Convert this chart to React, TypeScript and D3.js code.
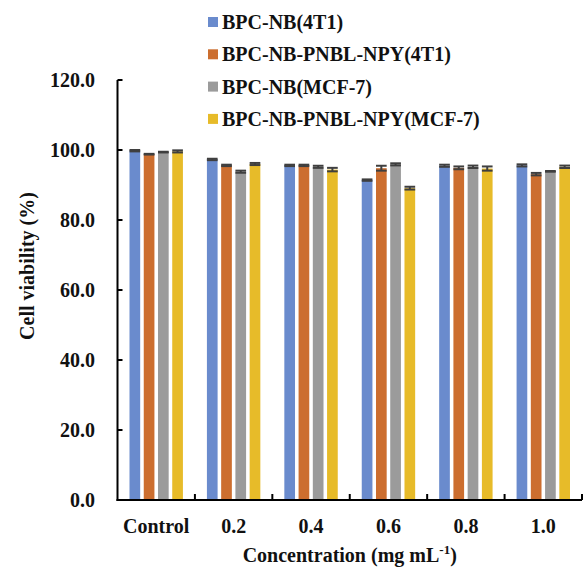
import * as d3 from 'd3';

const categories = ['Control', '0.2', '0.4', '0.6', '0.8', '1.0'];
const seriesNames = ['BPC-NB(4T1)', 'BPC-NB-PNBL-NPY(4T1)', 'BPC-NB(MCF-7)', 'BPC-NB-PNBL-NPY(MCF-7)'];
const seriesColors = ['#6a8bcd', '#cc6e2f', '#9b9b9b', '#e7bb29'];

// mean cell viability (%)
const bpcNb4t1 = [99.8, 97.3, 95.6, 91.4, 95.5, 95.6];
const pnbl4t1 = [98.8, 95.6, 95.6, 94.8, 94.9, 93.1];
const bpcNbMcf7 = [99.4, 93.8, 95.2, 95.9, 95.2, 93.9];
const pnblMcf7 = [99.6, 96.0, 94.4, 89.1, 94.7, 95.2];

// standard deviations
const bpcNb4t1Err = [0.2, 0.2, 0.2, 0.2, 0.3, 0.3];
const pnbl4t1Err = [0.1, 0.2, 0.2, 0.7, 0.4, 0.35];
const bpcNbMcf7Err = [0.1, 0.3, 0.3, 0.3, 0.35, 0.1];
const pnblMcf7Err = [0.3, 0.3, 0.5, 0.4, 0.6, 0.35];

const yTicks = [0, 20, 40, 60, 80, 100, 120];

const values = [bpcNb4t1, pnbl4t1, bpcNbMcf7, pnblMcf7];
const errors = [bpcNb4t1Err, pnbl4t1Err, bpcNbMcf7Err, pnblMcf7Err];

const W = 586;
const H = 568;
const left = 117.5;
const right = 582;
const top = 80;
const bottom = 500;
const font = 'Liberation Serif, DejaVu Serif, serif';

export default function App() {
  const x = d3.scaleBand<string>().domain(categories).range([left, right]).padding(0);
  const bw = x.bandwidth();
  const inner = d3
    .scaleBand<number>()
    .domain(d3.range(seriesNames.length))
    .range([12, bw - 12])
    .paddingInner(0.25)
    .paddingOuter(0);
  const y = d3.scaleLinear().domain([0, 120]).range([bottom, top]);
  const fmt = d3.format('.1f');

  const tickXs = categories.map((c) => (x(c) as number) + bw);
  const txt = { fontFamily: font, fontWeight: 700, fontSize: '20px', fill: '#111' };

  return (
    <div style={{ position: 'absolute', left: 0, top: 0 }}>
      <svg width={W} height={H} style={{ display: 'block', background: '#fff' }}>
        {/* bars */}
        {categories.map((c, ci) =>
          values.map((vals, si) => {
            const bx = (x(c) as number) + (inner(si) as number);
            return (
              <rect
                key={`b-${ci}-${si}`}
                x={bx}
                y={y(vals[ci])}
                width={inner.bandwidth()}
                height={bottom - y(vals[ci])}
                fill={seriesColors[si]}
              />
            );
          })
        )}

        {/* error bars */}
        {categories.map((c, ci) =>
          values.map((vals, si) => {
            const bx = (x(c) as number) + (inner(si) as number);
            const cx = bx + inner.bandwidth() / 2;
            const hi = y(vals[ci] + errors[si][ci]);
            const lo = y(vals[ci] - errors[si][ci]);
            return (
              <g key={`e-${ci}-${si}`} stroke="#3f3f3f" strokeWidth={2}>
                <line x1={cx} x2={cx} y1={hi} y2={lo} />
                <line x1={bx} x2={bx + inner.bandwidth()} y1={hi} y2={hi} />
                <line x1={bx} x2={bx + inner.bandwidth()} y1={lo} y2={lo} />
              </g>
            );
          })
        )}

        {/* axes */}
        <g stroke="#000" strokeWidth={2} fill="none">
          <line x1={left} x2={left} y1={top} y2={bottom + 1} />
          <line x1={left - 1} x2={right} y1={bottom} y2={bottom} />
          {yTicks.map((t) => (
            <line key={`yt-${t}`} x1={left} x2={left + 5} y1={y(t)} y2={y(t)} />
          ))}
          {tickXs.map((tx, i) => (
            <line key={`xt-${i}`} x1={tx} x2={tx} y1={bottom} y2={bottom - 6} />
          ))}
        </g>

        {/* y tick labels */}
        {yTicks.map((t) => (
          <text key={`yl-${t}`} x={95} y={y(t)} dy="0.35em" textAnchor="end" style={txt}>
            {fmt(t)}
          </text>
        ))}

        {/* x tick labels */}
        {categories.map((c) => (
          <text key={`xl-${c}`} x={(x(c) as number) + bw / 2} y={526} dy="0.35em" textAnchor="middle" style={txt}>
            {c}
          </text>
        ))}

        {/* axis titles */}
        <text x={(left + right) / 2} y={555} dy="0.35em" textAnchor="middle" style={txt}>
          Concentration (mg mL
          <tspan style={{ fontSize: '13px' }} dy={-8}>-1</tspan>
          <tspan dy={8}>)</tspan>
        </text>
        <text transform={`translate(27,266) rotate(-90)`} dy="0.35em" textAnchor="middle" style={txt}>
          Cell viability (%)
        </text>

        {/* legend */}
        {seriesNames.map((name, i) => {
          const ly = 22 + i * 32.3;
          return (
            <g key={`lg-${i}`}>
              <rect x={208} y={ly - 5} width={10} height={10} fill={seriesColors[i]} />
              <text x={222} y={ly} dy="0.35em" style={txt}>
                {name}
              </text>
            </g>
          );
        })}
      </svg>
    </div>
  );
}
